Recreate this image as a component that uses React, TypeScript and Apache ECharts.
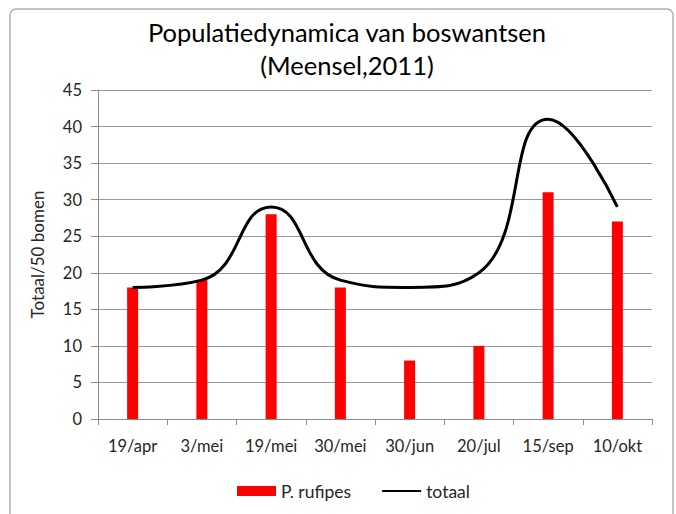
import React, { useEffect, useRef } from "react";
import * as echarts from "echarts";

const categories = ["19/apr", "3/mei", "19/mei", "30/mei", "30/jun", "20/jul", "15/sep", "10/okt"];
const rufipes = [18, 19, 28, 18, 8, 10, 31, 27];
const totaal = [18, 19, 29, 19, 18, 20, 41, 29];
const titleText = "Populatiedynamica van boswantsen\n(Meensel,2011)";
const yAxisName = "Totaal/50 bomen";

const FONT = "Lato";
const TEXT = "#262626";

export default function App() {
  const ref = useRef<HTMLDivElement>(null);
  useEffect(() => {
    if (!ref.current) return;
    const chart = echarts.init(ref.current, undefined, { renderer: "svg" });
    chart.setOption({
      animation: false,
      backgroundColor: "#fff",
      textStyle: { fontFamily: FONT, color: TEXT },
      title: {
        text: titleText,
        left: 347,
        textAlign: "center",
        top: 15,
        padding: 0,
        textStyle: { fontFamily: FONT, fontSize: 25.5, fontWeight: "normal", color: "#000", lineHeight: 33 },
      },
      graphic: [
        {
          type: "rect",
          shape: { x: 10, y: 9, width: 663, height: 515, r: 6 },
          style: { fill: "none", stroke: "#b0b0b0", lineWidth: 1.5 },
          silent: true,
        },
      ],
      legend: {
        bottom: 9,
        left: 232,
        itemGap: 30,
        itemWidth: 39,
        itemHeight: 10,
        textStyle: { fontFamily: FONT, fontSize: 17.5, color: TEXT },
        data: [
          { name: "P. rufipes", icon: "rect" },
          { name: "totaal", itemStyle: { color: "rgba(0,0,0,0)", borderColor: "rgba(0,0,0,0)", borderWidth: 0 } },
        ],
      },
      grid: { left: 98, right: 24, top: 90, bottom: 95, containLabel: false },
      xAxis: {
        type: "category",
        data: categories,
        boundaryGap: true,
        axisLine: { lineStyle: { color: "#8c8c8c", width: 1 } },
        axisTick: { show: true, inside: false, length: 6, interval: 0, alignWithLabel: false, lineStyle: { color: "#8c8c8c" } },
        axisLabel: { fontFamily: FONT, fontSize: 16.5, color: TEXT, margin: 18, interval: 0, hideOverlap: false },
      },
      yAxis: {
        type: "value",
        min: 0,
        max: 45,
        interval: 5,
        name: yAxisName,
        nameLocation: "middle",
        nameGap: 52,
        nameTextStyle: { fontFamily: FONT, fontSize: 17, color: TEXT },
        axisLine: { show: true, lineStyle: { color: "#8c8c8c", width: 1 } },
        axisTick: { show: true, length: 7, lineStyle: { color: "#8c8c8c" } },
        axisLabel: { fontFamily: FONT, fontSize: 16.5, color: TEXT, margin: 16 },
        splitLine: { lineStyle: { color: "#9a9a9a", width: 1 } },
      },
      series: [
        {
          name: "P. rufipes",
          type: "bar",
          data: rufipes,
          barWidth: 11,
          itemStyle: { color: "#ff0000" },
        },
        {
          name: "totaal",
          type: "line",
          data: totaal,
          smooth: 0.5,
          symbol: "none",
          showSymbol: false,
          lineStyle: { color: "#000", width: 3 },
          itemStyle: { color: "#000" },
        },
      ],
    });
    return () => chart.dispose();
  }, []);
  return <div ref={ref} style={{ position: "fixed", left: 0, top: 0, width: 676, height: 514 }} />;
}
